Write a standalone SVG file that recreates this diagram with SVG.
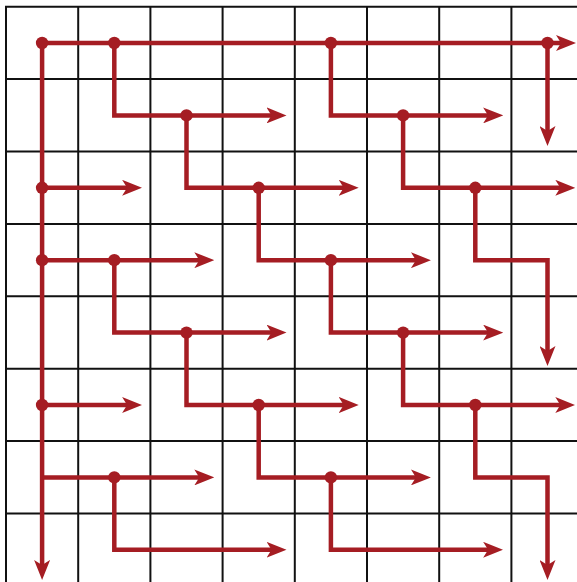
<svg xmlns="http://www.w3.org/2000/svg" width="577" height="582" viewBox="0 0 577 582">
  <style>
    .grid line { stroke: #111; stroke-width: 2; }
    .conn path { fill: none; stroke: #a51d23; stroke-width: 4.5; stroke-linejoin: miter; marker-end: url(#ah); }
    .node circle { fill: #a51d23; }
  </style>
  <defs>
    <marker id="ah" markerUnits="userSpaceOnUse" viewBox="0 0 20 16" markerWidth="20" markerHeight="16" refX="8" refY="8" orient="auto">
      <path d="M0,0 L20,8 L0,16 L5,8 Z" fill="#a51d23"/>
    </marker>
  </defs>
  <rect x="0" y="0" width="577" height="582" fill="#fff"/>
  <g class="grid">
    <line x1="6" y1="6.7" x2="6" y2="582"/>
    <line x1="78.2" y1="6.7" x2="78.2" y2="582"/>
    <line x1="150.4" y1="6.7" x2="150.4" y2="582"/>
    <line x1="222.6" y1="6.7" x2="222.6" y2="582"/>
    <line x1="294.8" y1="6.7" x2="294.8" y2="582"/>
    <line x1="367" y1="6.7" x2="367" y2="582"/>
    <line x1="439.2" y1="6.7" x2="439.2" y2="582"/>
    <line x1="511.4" y1="6.7" x2="511.4" y2="582"/>
    <line x1="5" y1="6.7" x2="577" y2="6.7"/>
    <line x1="5" y1="79.1" x2="577" y2="79.1"/>
    <line x1="5" y1="151.5" x2="577" y2="151.5"/>
    <line x1="5" y1="223.9" x2="577" y2="223.9"/>
    <line x1="5" y1="296.3" x2="577" y2="296.3"/>
    <line x1="5" y1="368.7" x2="577" y2="368.7"/>
    <line x1="5" y1="441.1" x2="577" y2="441.1"/>
    <line x1="5" y1="513.5" x2="577" y2="513.5"/>
  </g>
  <g id="connectors" class="conn">
    <path d="M42.1,43 V568"/>
    <path d="M42.1,43 H564"/>
    <path d="M547.5,43 V134"/>
    <path d="M114.3,43 V115.4 H274.5"/>
    <path d="M330.9,43 V115.4 H491.1"/>
    <path d="M42.1,187.8 H130.1"/>
    <path d="M186.5,115.4 V187.8 H346.7"/>
    <path d="M403.1,115.4 V187.8 H563.3"/>
    <path d="M42.1,260.2 H202.3"/>
    <path d="M258.7,187.8 V260.2 H418.9"/>
    <path d="M475.3,187.8 V260.2 H547.5 V354"/>
    <path d="M114.3,260.2 V332.6 H274.5"/>
    <path d="M330.9,260.2 V332.6 H491.1"/>
    <path d="M42.1,405 H130.1"/>
    <path d="M186.5,332.6 V405 H346.7"/>
    <path d="M403.1,332.6 V405 H563.3"/>
    <path d="M42.1,477.4 H202.3"/>
    <path d="M258.7,405 V477.4 H418.9"/>
    <path d="M475.3,405 V477.4 H547.5 V568"/>
    <path d="M114.3,477.4 V549.8 H274.5"/>
    <path d="M330.9,477.4 V549.8 H491.1"/>
  </g>
  <g id="n-0-0" class="node"><circle cx="42.1" cy="43" r="6.2"/></g>
  <g id="n-1-0" class="node"><circle cx="114.3" cy="43" r="6.2"/></g>
  <g id="n-4-0" class="node"><circle cx="330.9" cy="43" r="6.2"/></g>
  <g id="n-7-0" class="node"><circle cx="547.5" cy="43" r="6.2"/></g>
  <g id="n-2-1" class="node"><circle cx="186.5" cy="115.4" r="6.2"/></g>
  <g id="n-5-1" class="node"><circle cx="403.1" cy="115.4" r="6.2"/></g>
  <g id="n-0-2" class="node"><circle cx="42.1" cy="187.8" r="6.2"/></g>
  <g id="n-3-2" class="node"><circle cx="258.7" cy="187.8" r="6.2"/></g>
  <g id="n-6-2" class="node"><circle cx="475.3" cy="187.8" r="6.2"/></g>
  <g id="n-0-3" class="node"><circle cx="42.1" cy="260.2" r="6.2"/></g>
  <g id="n-1-3" class="node"><circle cx="114.3" cy="260.2" r="6.2"/></g>
  <g id="n-4-3" class="node"><circle cx="330.9" cy="260.2" r="6.2"/></g>
  <g id="n-2-4" class="node"><circle cx="186.5" cy="332.6" r="6.2"/></g>
  <g id="n-5-4" class="node"><circle cx="403.1" cy="332.6" r="6.2"/></g>
  <g id="n-0-5" class="node"><circle cx="42.1" cy="405" r="6.2"/></g>
  <g id="n-3-5" class="node"><circle cx="258.7" cy="405" r="6.2"/></g>
  <g id="n-6-5" class="node"><circle cx="475.3" cy="405" r="6.2"/></g>
  <g id="n-1-6" class="node"><circle cx="114.3" cy="477.4" r="6.2"/></g>
  <g id="n-4-6" class="node"><circle cx="330.9" cy="477.4" r="6.2"/></g>
</svg>
